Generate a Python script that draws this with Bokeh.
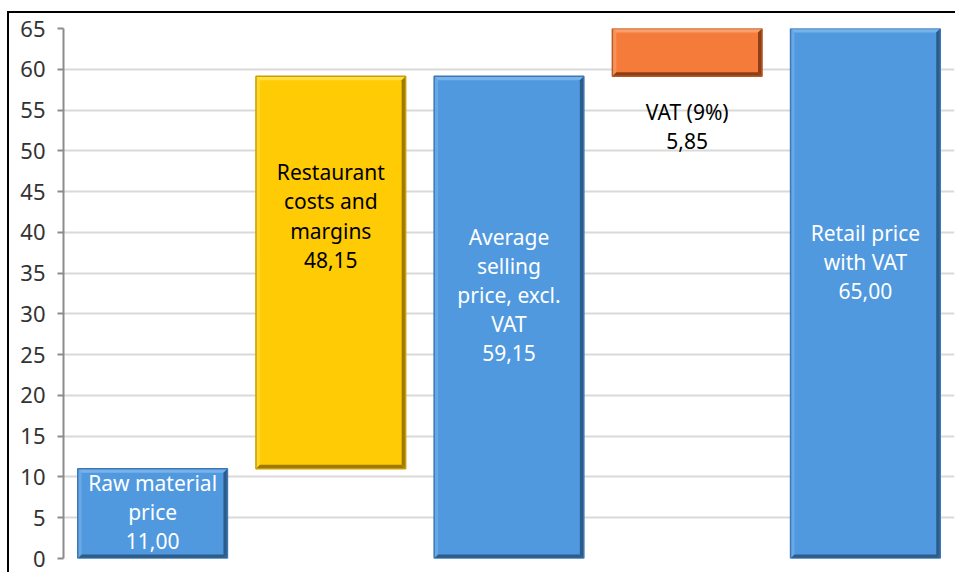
from bokeh.plotting import figure
from bokeh.models import Range1d, ColumnDataSource, SingleIntervalTicker
from bokeh.core.properties import value
from bokeh.embed import file_html
from bokeh.resources import INLINE

# ---- data ----
categories = ["Raw material price", "Restaurant costs and margins",
              "Average selling price, excl. VAT", "VAT (9%)", "Retail price with VAT"]
label_lines = ["Raw material\nprice", "Restaurant\ncosts and\nmargins",
               "Average\nselling\nprice, excl.\nVAT", "VAT (9%)", "Retail price\nwith VAT"]
bar_bottom = [0.0, 11.00, 0.0, 59.15, 0.0]
bar_top = [11.00, 59.15, 59.15, 65.00, 65.00]
amounts = [11.00, 48.15, 59.15, 5.85, 65.00]
y_ticks = list(range(0, 70, 5))

# ---- styles ----
fills = ["#5099DF", "#FFCB05", "#5099DF", "#F47B3A", "#5099DF"]
edges = ["#3C78B4", "#C89E00", "#3C78B4", "#B85A28", "#3C78B4"]
darks = ["#2B5C8A", "#9E7A00", "#2B5C8A", "#8E3E16", "#2B5C8A"]
lights = ["#78B2EA", "#FFDD44", "#78B2EA", "#F9A06C", "#78B2EA"]
text_colors = ["white", "black", "white", "black", "white"]
label_y = [5.7, 42.0, 32.3, 53.0, 36.4]
half_w = 0.42
px_x = 5 / 891      # one pixel in x data units
px_y = 65 / 530     # one pixel in y data units
bev = 4             # bevel width in px

xs = list(range(len(categories)))
labels = [t + "\n" + f"{v:.2f}".replace(".", ",") for t, v in zip(label_lines, amounts)]
lefts = [x - half_w for x in xs]
rights = [x + half_w for x in xs]

src = ColumnDataSource(dict(x=xs, left=lefts, right=rights,
                            bottom=bar_bottom, top=bar_top, fill=fills, edge=edges,
                            label=labels, ly=label_y, tc=text_colors))

p = figure(width=948, height=561, output_backend="svg", toolbar_location=None,
           x_range=Range1d(-0.5, 4.5), y_range=Range1d(0, 65),
           min_border_left=54, min_border_right=3, min_border_top=15, min_border_bottom=16)
p.styles = {"border-left": "2px solid black", "border-top": "2px solid black",
            "margin-left": "7px", "margin-top": "11px"}
p.outline_line_color = None
p.xaxis.visible = False
p.xgrid.visible = False
p.ygrid.grid_line_color = "#D9D9D9"
p.ygrid.grid_line_width = 2
p.ygrid.ticker = SingleIntervalTicker(interval=5)

p.yaxis.ticker = SingleIntervalTicker(interval=5)
p.yaxis.axis_line_color = "#8C8C8C"
p.yaxis.axis_line_width = 2
p.yaxis.major_tick_line_color = "#8C8C8C"
p.yaxis.major_tick_line_width = 2
p.yaxis.major_tick_out = 6
p.yaxis.major_tick_in = 0
p.yaxis.minor_tick_line_color = None
p.yaxis.major_label_text_font = "Noto Sans"
p.yaxis.major_label_text_font_size = "22px"
p.yaxis.major_label_text_color = "#333333"
p.yaxis.major_label_standoff = 12

p.quad(left="left", right="right", bottom="bottom", top="top", source=src,
       fill_color="fill", line_color=None)

# bevel: light on top/left, dark on right/bottom
bx, by = bev * px_x, bev * px_y
top_xs = [[l, r, r - bx, l + bx] for l, r in zip(lefts, rights)]
top_ys = [[t, t, t - by, t - by] for t in bar_top]
left_xs = [[l, l + bx, l + bx, l] for l in lefts]
left_ys = [[b, b + by, t - by, t] for b, t in zip(bar_bottom, bar_top)]
right_xs = [[r, r - bx, r - bx, r] for r in rights]
right_ys = [[b, b + by, t - by, t] for b, t in zip(bar_bottom, bar_top)]
bot_xs = [[l, r, r - bx, l + bx] for l, r in zip(lefts, rights)]
bot_ys = [[b, b, b + by, b + by] for b in bar_bottom]
p.patches(top_xs, top_ys, fill_color=lights, line_color=None)
p.patches(left_xs, left_ys, fill_color=lights, line_color=None, fill_alpha=0.6)
p.patches(right_xs, right_ys, fill_color=darks, line_color=None)
p.patches(bot_xs, bot_ys, fill_color=darks, line_color=None)
p.quad(left="left", right="right", bottom="bottom", top="top", source=src,
       fill_color=None, line_color="edge", line_width=1.5)

p.text(x="x", y="ly", text="label", source=src, text_color="tc",
       text_align="center", text_baseline="middle",
       text_font=value("Noto Sans"), text_font_size="21px", text_line_height=1.04)

open("out.html", "w").write(file_html(p, INLINE))
